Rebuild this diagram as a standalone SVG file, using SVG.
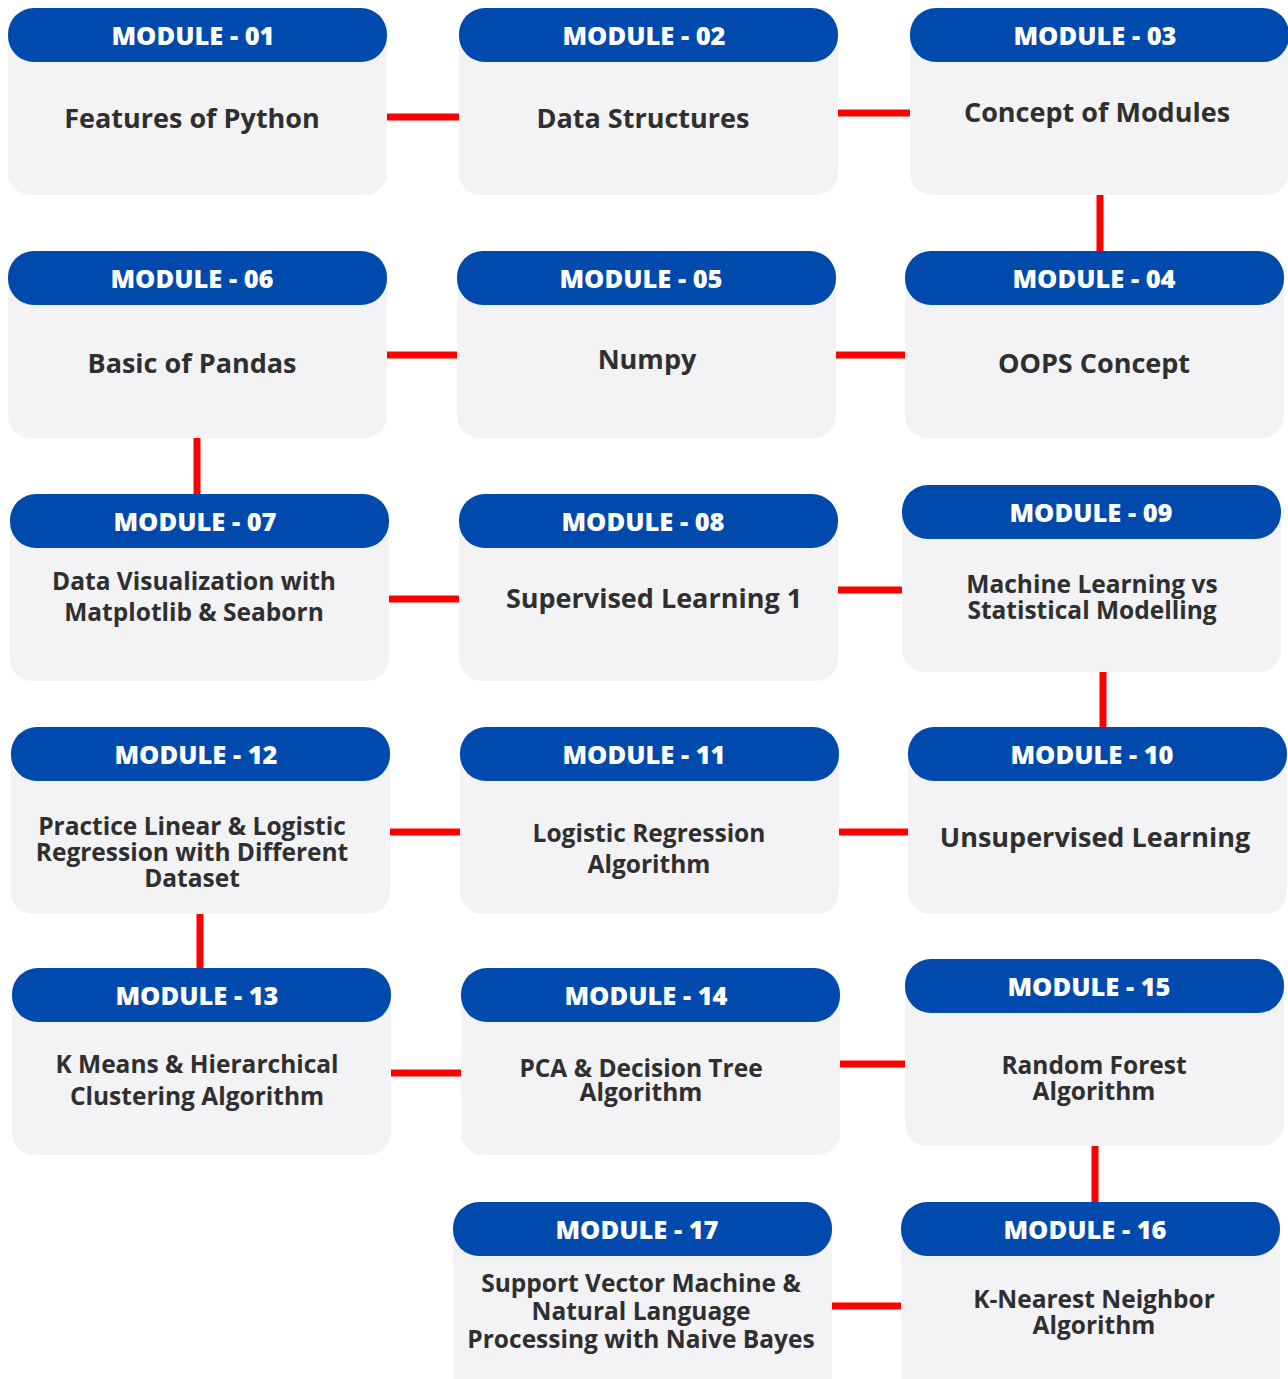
<svg xmlns="http://www.w3.org/2000/svg" xmlns:xlink="http://www.w3.org/1999/xlink" width="1288" height="1379" viewBox="0 0 1288 1379">
<style>
.hd{font-family:"Open Sans","Liberation Sans",sans-serif;font-weight:800;font-size:25.5px;fill:#ffffff;text-anchor:middle}
.t1{font-family:"Open Sans","Liberation Sans",sans-serif;font-weight:700;font-size:27px;fill:#2f2f2f;text-anchor:middle}
.t2{font-family:"Open Sans","Liberation Sans",sans-serif;font-weight:700;font-size:24.5px;fill:#2f2f2f;text-anchor:middle}
.cn line{stroke:#ff0000;stroke-width:7}
</style>
<defs>
<g id="card">
<path d="M0 27H379V165A22 22 0 0 1 357 187H22A22 22 0 0 1 0 165Z" fill="#f3f2f5"/>
<rect x="0" y="0" width="379" height="54" rx="26" fill="#004aad"/>
</g>
<g id="cardL">
<path d="M0 27H379V200H0Z" fill="#f3f2f5"/>
<rect x="0" y="0" width="379" height="54" rx="26" fill="#004aad"/>
</g>
</defs>
<rect width="1288" height="1379" fill="#ffffff"/>
<g id="connectors" class="cn">
<line x1="385" y1="117" x2="461" y2="117"/>
<line x1="836" y1="113" x2="912" y2="113"/>
<line x1="1100" y1="193" x2="1100" y2="253"/>
<line x1="834" y1="355" x2="907" y2="355"/>
<line x1="385" y1="355" x2="459" y2="355"/>
<line x1="197" y1="436" x2="197" y2="496"/>
<line x1="387" y1="599" x2="461" y2="599"/>
<line x1="836" y1="590" x2="904" y2="590"/>
<line x1="1103" y1="670" x2="1103" y2="729"/>
<line x1="837" y1="832" x2="910" y2="832"/>
<line x1="388" y1="832" x2="462" y2="832"/>
<line x1="200" y1="912" x2="200" y2="970"/>
<line x1="389" y1="1073" x2="463" y2="1073"/>
<line x1="838" y1="1064" x2="907" y2="1064"/>
<line x1="1095" y1="1144" x2="1095" y2="1204"/>
<line x1="829" y1="1306" x2="903" y2="1306"/>
</g>
<g id="m01" transform="translate(8,8)"><use xlink:href="#card"/><text class="hd" x="185" y="37">MODULE - 01</text><text class="t1" x="184" y="120">Features of Python</text></g>
<g id="m02" transform="translate(459,8)"><use xlink:href="#card"/><text class="hd" x="185" y="37">MODULE - 02</text><text class="t1" x="184" y="120">Data Structures</text></g>
<g id="m03" transform="translate(910,8)"><use xlink:href="#card"/><text class="hd" x="185" y="37">MODULE - 03</text><text class="t1" x="187" y="114">Concept of Modules</text></g>
<g id="m04" transform="translate(905,251)"><use xlink:href="#card"/><text class="hd" x="189" y="37">MODULE - 04</text><text class="t1" x="189" y="122">OOPS Concept</text></g>
<g id="m05" transform="translate(457,251)"><use xlink:href="#card"/><text class="hd" x="184" y="37">MODULE - 05</text><text class="t1" x="190" y="118">Numpy</text></g>
<g id="m06" transform="translate(8,251)"><use xlink:href="#card"/><text class="hd" x="184" y="37">MODULE - 06</text><text class="t1" x="184" y="122">Basic of Pandas</text></g>
<g id="m07" transform="translate(10,494)"><use xlink:href="#card"/><text class="hd" x="185" y="37">MODULE - 07</text><text class="t2" x="184" y="96">Data Visualization with</text><text class="t2" x="184" y="127">Matplotlib &amp; Seaborn</text></g>
<g id="m08" transform="translate(459,494)"><use xlink:href="#card"/><text class="hd" x="184" y="37">MODULE - 08</text><text class="t1" x="195" y="114">Supervised Learning 1</text></g>
<g id="m09" transform="translate(902,485)"><use xlink:href="#card"/><text class="hd" x="189" y="37">MODULE - 09</text><text class="t2" x="190" y="108">Machine Learning vs</text><text class="t2" x="190" y="134">Statistical Modelling</text></g>
<g id="m10" transform="translate(908,727)"><use xlink:href="#card"/><text class="hd" x="184" y="37">MODULE - 10</text><text class="t1" x="187" y="120">Unsupervised Learning</text></g>
<g id="m11" transform="translate(460,727)"><use xlink:href="#card"/><text class="hd" x="184" y="37">MODULE - 11</text><text class="t2" x="189" y="115">Logistic Regression</text><text class="t2" x="189" y="146">Algorithm</text></g>
<g id="m12" transform="translate(11,727)"><use xlink:href="#card"/><text class="hd" x="185" y="37">MODULE - 12</text><text class="t2" x="181" y="108">Practice Linear &amp; Logistic</text><text class="t2" x="181" y="134">Regression with Different</text><text class="t2" x="181" y="160">Dataset</text></g>
<g id="m13" transform="translate(12,968)"><use xlink:href="#card"/><text class="hd" x="185" y="37">MODULE - 13</text><text class="t2" x="185" y="105">K Means &amp; Hierarchical</text><text class="t2" x="185" y="137">Clustering Algorithm</text></g>
<g id="m14" transform="translate(461,968)"><use xlink:href="#card"/><text class="hd" x="185" y="37">MODULE - 14</text><text class="t2" x="180" y="109">PCA &amp; Decision Tree</text><text class="t2" x="180" y="133">Algorithm</text></g>
<g id="m15" transform="translate(905,959)"><use xlink:href="#card"/><text class="hd" x="184" y="37">MODULE - 15</text><text class="t2" x="189" y="115">Random Forest</text><text class="t2" x="189" y="141">Algorithm</text></g>
<g id="m16" transform="translate(901,1202)"><use xlink:href="#cardL"/><text class="hd" x="184" y="37">MODULE - 16</text><text class="t2" x="193" y="106">K-Nearest Neighbor</text><text class="t2" x="193" y="132">Algorithm</text></g>
<g id="m17" transform="translate(453,1202)"><use xlink:href="#cardL"/><text class="hd" x="184" y="37">MODULE - 17</text><text class="t2" x="188" y="90">Support Vector Machine &amp;</text><text class="t2" x="188" y="118">Natural Language</text><text class="t2" x="188" y="146">Processing with Naive Bayes</text></g>
</svg>
